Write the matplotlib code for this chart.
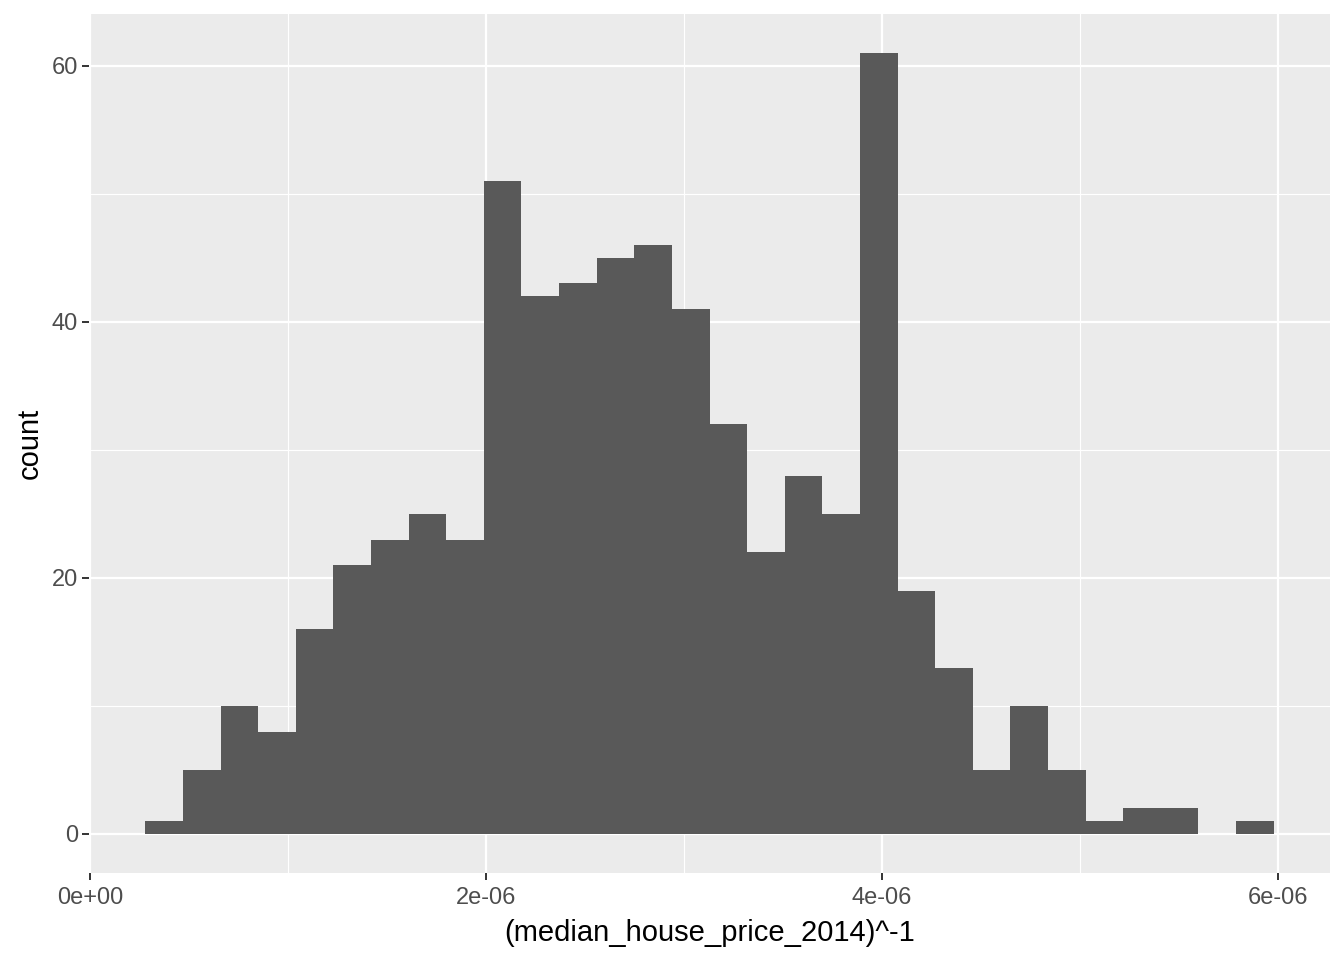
import matplotlib
matplotlib.use("Agg")
import matplotlib.pyplot as plt
import numpy as np

plt.rcParams['font.family'] = ['Liberation Sans', 'DejaVu Sans']

# Data
bin_start = 2.78e-7
bin_width = 1.90e-7
counts = [1, 5, 10, 8, 16, 21, 23, 25, 23, 51, 42, 43, 45, 46, 41,
          32, 22, 28, 25, 61, 19, 13, 5, 10, 5, 1, 2, 2, 0, 1]
x_ticks = [0, 2e-6, 4e-6, 6e-6]
x_tick_labels = ["0e+00", "2e-06", "4e-06", "6e-06"]
y_ticks = [0, 20, 40, 60]
x_label = "(median_house_price_2014)^-1"
y_label = "count"

n = len(counts)
edges = bin_start + bin_width * np.arange(n + 1)

fig = plt.figure(figsize=(13.44, 9.6), dpi=100)
ax = fig.add_axes([89/1344, (960-873)/960, (1330-89)/1344, (873-14)/960])
ax.set_facecolor('#EBEBEB')

ax.bar(edges[:-1], counts, width=bin_width, align='edge', color='#595959',
       edgecolor='none', linewidth=0, zorder=3)

xmin, xmax = edges[0], edges[-1]
xr = xmax - xmin
ax.set_xlim(xmin - 0.05 * xr, xmax + 0.05 * xr)
ymax = max(counts)
ax.set_ylim(-0.05 * ymax, ymax * 1.05)

ax.set_xticks(x_ticks)
ax.set_xticklabels(x_tick_labels)
ax.set_yticks(y_ticks)
ax.set_xticks([1e-6, 3e-6, 5e-6], minor=True)
ax.set_yticks([10, 30, 50], minor=True)

ax.grid(which='major', color='white', linewidth=1.6, zorder=1)
ax.grid(which='minor', color='white', linewidth=0.8, zorder=1)
ax.set_axisbelow(True)

for s in ax.spines.values():
    s.set_visible(False)

ax.tick_params(which='major', length=5.3, width=1.4, color='#333333',
               labelcolor='#4D4D4D', labelsize=17, pad=2.5)
ax.tick_params(axis='x', which='major', pad=5)
ax.tick_params(which='minor', length=0)

ax.set_xlabel(x_label, fontsize=21, color='black', labelpad=7)
ax.set_ylabel(y_label, fontsize=21, color='black', labelpad=6)

fig.savefig("out.png", dpi=100)
